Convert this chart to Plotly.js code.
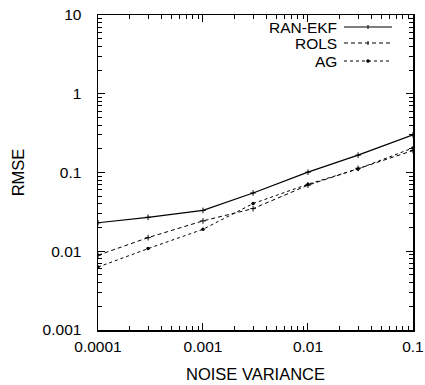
<!DOCTYPE html>
<html><head><meta charset="utf-8">
<script src="https://cdn.plot.ly/plotly-3.0.1.min.js"></script>
<style>html,body{margin:0;padding:0;background:#fff}#plot{width:425px;height:385px}</style>
</head><body><div id="plot"></div>
<script>
const noiseVariance = [0.0001, 0.0003, 0.001, 0.003, 0.01, 0.03, 0.1];
const ranEkf = [0.023, 0.027, 0.033, 0.055, 0.101, 0.166, 0.30];
const rols   = [0.0089, 0.0149, 0.0243, 0.0348, 0.069, 0.113, 0.19];
const ag     = [0.0063, 0.0108, 0.019, 0.0403, 0.071, 0.111, 0.205];
const seriesNames = ['RAN-EKF', 'ROLS', 'AG'];
const xTickVals = [0.0001, 0.001, 0.01, 0.1];
const xTickText = ['0.0001', '0.001', '0.01', '0.1'];
const yTickVals = [0.001, 0.01, 0.1, 1, 10];
const yTickText = ['0.001', '0.01', '0.1', '1', '10'];

const font = {family: 'Liberation Sans, Arial, sans-serif', color: '#000'};
const traces = [
  {x: noiseVariance, y: ranEkf, name: seriesNames[0], mode: 'lines+markers',
   line: {color: '#000', width: 1.2, dash: 'solid'},
   marker: {symbol: 'cross-thin', size: 4, line: {color: '#000', width: 1}}},
  {x: noiseVariance, y: rols, name: seriesNames[1], mode: 'lines+markers',
   line: {color: '#000', width: 1, dash: '4px,3px'},
   marker: {symbol: 'cross-thin', size: 4, line: {color: '#000', width: 1}}},
  {x: noiseVariance, y: ag, name: seriesNames[2], mode: 'lines+markers',
   line: {color: '#000', width: 1, dash: 'dot'},
   marker: {symbol: 'circle', size: 3.5, color: '#000'}}
];

const X0 = 98, W = 315, Y0 = 15, H = 315;
const px = v => (v - X0) / W, py = v => 1 - (v - Y0) / H;
const legY = [27, 43, 61];
const dashes = ['solid', '4px,3px', 'dot'];
const shapes = [], annotations = [];
for (let i = 0; i < 3; i++) {
  const yp = py(legY[i]);
  shapes.push({type: 'line', xref: 'paper', yref: 'paper', x0: px(344), x1: px(392),
    y0: yp, y1: yp, line: {color: '#000', width: 1, dash: dashes[i]}});
  if (i < 2) {
    shapes.push({type: 'line', xref: 'paper', yref: 'paper', x0: px(368), x1: px(368),
      y0: py(legY[i] - 2), y1: py(legY[i] + 2), line: {color: '#000', width: 1}});
  } else {
    shapes.push({type: 'circle', xref: 'paper', yref: 'paper', x0: px(366.5), x1: px(369.5),
      y0: py(legY[i] - 1.5), y1: py(legY[i] + 1.5), fillcolor: '#000', line: {color: '#000', width: 0.5}});
  }
  annotations.push({xref: 'paper', yref: 'paper', x: px(338), y: yp, xanchor: 'right', yanchor: 'middle',
    text: seriesNames[i], showarrow: false, height: 14, borderpad: 0, font: Object.assign({size: 15.5}, font)});
}

const axisCommon = {type: 'log', showline: true, linecolor: '#000', linewidth: 1.5, mirror: 'ticks',
  ticks: 'inside', ticklen: 7, tickcolor: '#000', showgrid: false, zeroline: false,
  tickmode: 'array', tickfont: Object.assign({size: 15.5}, font), ticklabeloverflow: 'allow',
  minor: {ticks: 'inside', ticklen: 4, tickcolor: '#000', dtick: 'D1', showgrid: false}};

const layout = {
  width: 425, height: 385, showlegend: false,
  paper_bgcolor: '#fff', plot_bgcolor: '#fff',
  margin: {l: 98, r: 12, t: 15, b: 55},
  xaxis: Object.assign({}, axisCommon, {range: [-4, -0.9995], tickvals: xTickVals, ticktext: xTickText,
    ticklabelstandoff: 2,
    title: {text: 'NOISE VARIANCE', font: Object.assign({size: 16.5}, font), standoff: 14}}),
  yaxis: Object.assign({}, axisCommon, {range: [-3, 1], tickvals: yTickVals, ticktext: yTickText,
    ticklabelstandoff: 12,
    title: {text: 'RMSE', font: Object.assign({size: 16.5}, font), standoff: 14}}),
  shapes: shapes, annotations: annotations
};
Plotly.newPlot('plot', traces, layout, {displayModeBar: false, staticPlot: true});
</script></body></html>
